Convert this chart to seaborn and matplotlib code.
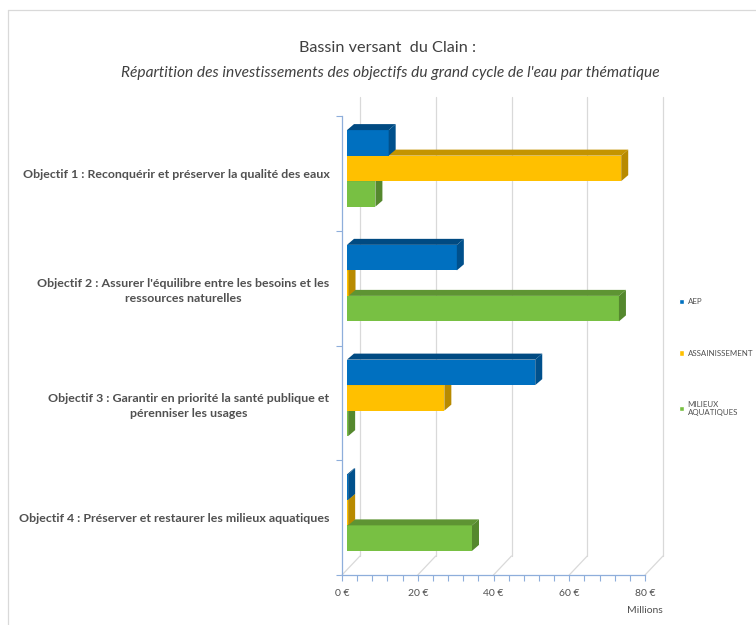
import numpy as np
import pandas as pd
import matplotlib.pyplot as plt
import matplotlib.transforms as mtransforms
from matplotlib.patches import Polygon
from matplotlib.lines import Line2D
from matplotlib.ticker import MultipleLocator, FixedLocator
import seaborn as sns

# donnees (millions d'euros)
objectifs = [
    "Objectif 1 : Reconquérir et préserver la qualité des eaux",
    "Objectif 2 : Assurer l'équilibre entre les besoins et les\nressources naturelles",
    "Objectif 3 : Garantir en priorité la santé publique et\npérenniser les usages",
    "Objectif 4 : Préserver et restaurer les milieux aquatiques",
]
thematiques = ["AEP", "ASSAINISSEMENT", "MILIEUX\nAQUATIQUES"]
aep = [11.0, 29.0, 49.7, 0.3]
assainissement = [72.4, 0.4, 25.7, 0.3]
milieux = [7.5, 71.8, 0.3, 33.0]
x_ticks = [0, 20, 40, 60, 80]
x_labels = ["0 €", "20 €", "40 €", "60 €", "80 €"]

couleurs = ["#0070C0", "#FFC000", "#78C043"]
cote = ["#00508C", "#B88A00", "#55882E"]
dessus = ["#004A82", "#C49400", "#5E9433"]
gris = "#505050"
bleu_axe = "#8EAEDB"

df = pd.DataFrame({
    "objectif": objectifs * 3,
    "thematique": np.repeat(thematiques, len(objectifs)),
    "montant": aep + assainissement + milieux,
})

sns.set_style("white")
plt.rcParams["font.family"] = ["Lato", "DejaVu Sans"]

fig = plt.figure(figsize=(7.56, 6.25), dpi=100)
ax = fig.add_axes([342 / 756, 50 / 625, 303 / 756, 459 / 625])

sns.barplot(data=df, y="objectif", x="montant", hue="thematique", orient="h",
            palette=couleurs, width=0.667, saturation=1, ax=ax, zorder=5)

ax.set_xlim(0, 80)
ax.set_ylim(3.5, -0.5)

# decalage 3D (pixels -> donnees)
px_x = 80 / 303
px_y = 4 / 459
face = mtransforms.offset_copy(ax.transData, fig=fig, x=5, y=5, units="dots")
ddx, ddy = 7 * px_x, 6 * px_y

for i, cont in enumerate(ax.containers):
    z = 10 - i
    for bar in cont:
        x0, y0 = bar.get_x(), bar.get_y()
        w, h = bar.get_width(), bar.get_height()
        x1 = x0 + w
        yt, yb = min(y0, y0 + h), max(y0, y0 + h)
        bar.set_transform(face)
        bar.set_zorder(z)
        bar.set_edgecolor("none")
        top = Polygon([(x0, yt), (x0 + ddx, yt - ddy), (x1 + ddx, yt - ddy), (x1, yt)],
                      closed=True, facecolor=dessus[i], edgecolor="none",
                      transform=face, zorder=z, clip_on=False)
        side = Polygon([(x1, yt), (x1 + ddx, yt - ddy), (x1 + ddx, yb - ddy), (x1, yb)],
                       closed=True, facecolor=cote[i], edgecolor="none",
                       transform=face, zorder=z, clip_on=False)
        ax.add_patch(top)
        ax.add_patch(side)

# mur du fond et quadrillage
gx, gy = 18 * px_x, 19 * px_y
for t in x_ticks:
    ax.plot([t + gx, t + gx], [-0.5 - gy, 3.5 - gy], color="#D9D9D9", lw=0.9,
            zorder=1, clip_on=False)
    ax.plot([t, t + gx], [3.5, 3.5 - gy], color="#D9D9D9", lw=0.9,
            zorder=1, clip_on=False)

# axes
for s in ["top", "right"]:
    ax.spines[s].set_visible(False)
for s in ["left", "bottom"]:
    ax.spines[s].set_color(bleu_axe)
    ax.spines[s].set_linewidth(0.9)
ax.xaxis.set_major_locator(FixedLocator(x_ticks))
ax.xaxis.set_minor_locator(MultipleLocator(4))
ax.set_xticklabels(x_labels)
ax.tick_params(axis="x", which="both", direction="out", length=4, width=0.8,
               color=bleu_axe, labelsize=7.5, labelcolor=gris, pad=6,
               bottom=True)
ax.yaxis.set_minor_locator(FixedLocator([-0.5, 0.5, 1.5, 2.5, 3.5]))
ax.tick_params(axis="y", which="minor", direction="out", length=4, width=0.8,
               color=bleu_axe, left=True)
ax.tick_params(axis="y", which="major", length=0, pad=9, labelsize=8.9,
               labelcolor=gris)
for lab in ax.get_yticklabels():
    lab.set_fontweight("bold")
    lab.set_multialignment("center")
    lab.set_linespacing(1.45)
ax.set_xlabel("")
ax.set_ylabel("")
ax.grid(False)

ax.text(1.0, -0.068, "Millions", transform=ax.transAxes, ha="center",
        va="top", fontsize=7.5, color=gris)

sns.move_legend(ax, "upper left", bbox_to_anchor=(1.09, 0.618), frameon=False,
                title=None, fontsize=5.7, labelcolor=gris, labelspacing=5.6,
                handlelength=0.6, handleheight=0.6, handletextpad=0.45)

fig.text(0.512, 1 - 48 / 625, "Bassin versant  du Clain :", ha="center",
         va="center", fontsize=11.7, color="#404040")
fig.text(0.516, 1 - 73 / 625,
         "Répartition des investissements des objectifs du grand cycle de l'eau par thématique",
         ha="center", va="center", fontsize=11.2, style="italic", color="#404040")

# cadre
fig.add_artist(Line2D([8 / 756, 8 / 756], [0, 1 - 10 / 625], color="#D9D9D9", lw=0.9))
fig.add_artist(Line2D([8 / 756, 1], [1 - 10 / 625, 1 - 10 / 625], color="#D9D9D9", lw=0.9))

fig.savefig("out.png", dpi=100)
